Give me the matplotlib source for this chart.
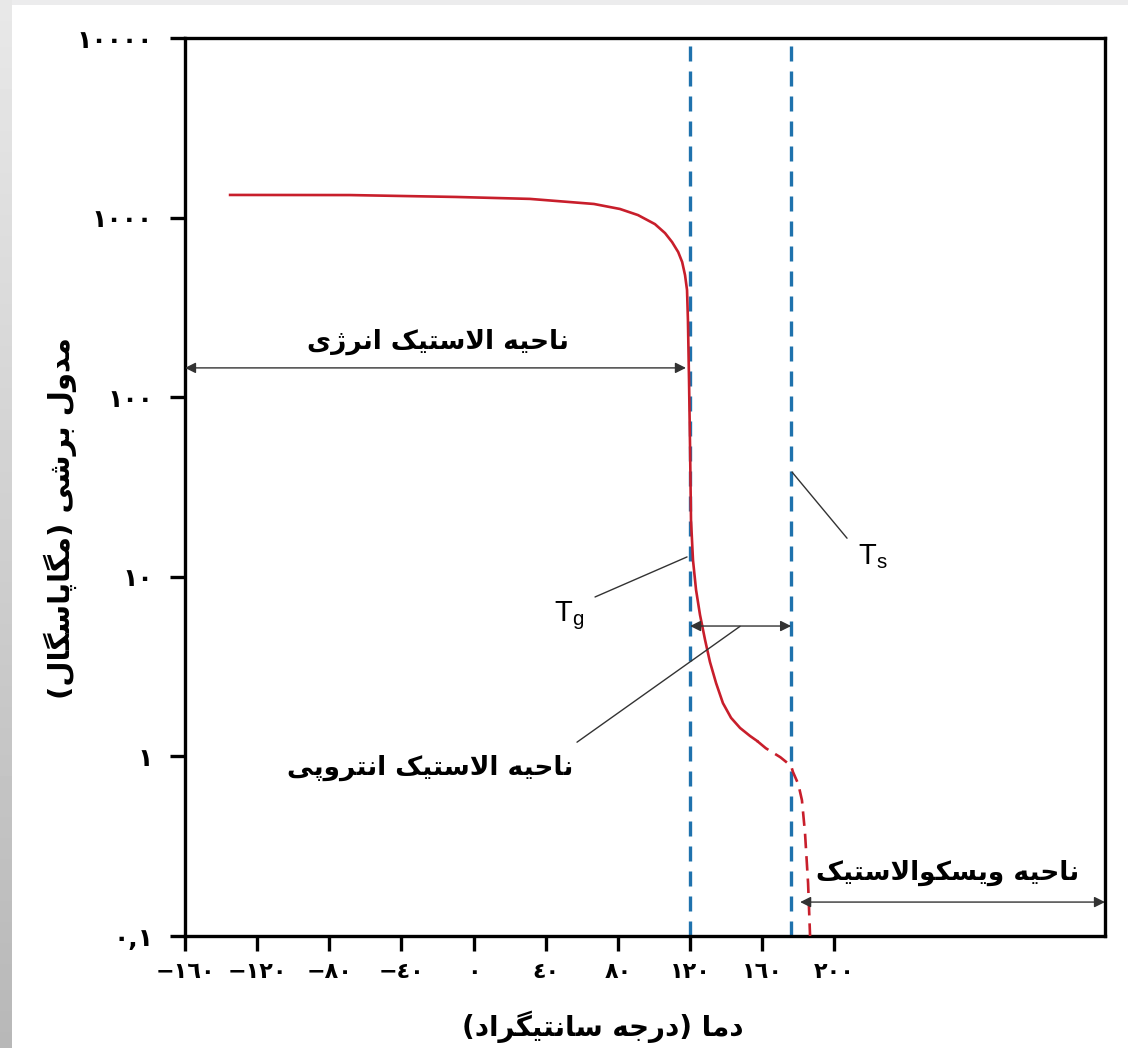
import matplotlib
matplotlib.use("Agg")
import matplotlib.pyplot as plt
import numpy as np

# داده‌ها: دما (درجه سانتیگراد) و مدول برشی (مگاپاسگال)
temp_solid = [-135, -68.5, -9.8, 31.2, 66.7, 81.1, 91.1, 100.5, 106.1, 110.0,
              113.4, 115.6, 117.2, 118.3, 118.8, 119.4, 120.0, 120.5, 121.6, 123.3,
              125.5, 128.3, 131.0, 134.4, 138.2, 142.7, 147.7, 153.2, 157.1]
mod_solid = [1337, 1335, 1303, 1271, 1191, 1117, 1033, 920, 820, 731,
             643, 566, 478, 395, 269, 125, 50.8, 20.7, 12.4, 8.45,
             6.13, 4.45, 3.36, 2.56, 1.98, 1.64, 1.44, 1.30, 1.22]
temp_dash = [157.1, 162, 170, 176, 177, 180, 182, 183.7, 185.4, 186.5]
mod_dash = [1.22, 1.11, 0.99, 0.885, 0.82, 0.70, 0.57, 0.375, 0.197, 0.1]

t_g = 120
t_s = 176

xticks = [-160, -120, -80, -40, 0, 40, 80, 120, 160, 200]
yticks = [0.1, 1, 10, 100, 1000, 10000]
ytick_labels = ["٠,١", "١", "١٠", "١٠٠", "١٠٠٠", "١٠٠٠٠"]

# شکل‌دهی حروف فارسی (matplotlib خودش حروف را به هم وصل نمی‌کند)
FORMS = {
    'ا': ('\ufe8d', '\ufe8e'), 'د': ('\ufea9', '\ufeaa'),
    'ر': ('\ufead', '\ufeae'), 'ز': ('\ufeaf', '\ufeb0'),
    'ژ': ('\ufb8a', '\ufb8b'), 'و': ('\ufeed', '\ufeee'),
    'ب': ('\ufe8f', '\ufe90', '\ufe91', '\ufe92'),
    'پ': ('\ufb56', '\ufb57', '\ufb58', '\ufb59'),
    'ت': ('\ufe95', '\ufe96', '\ufe97', '\ufe98'),
    'ج': ('\ufe9d', '\ufe9e', '\ufe9f', '\ufea0'),
    'ح': ('\ufea1', '\ufea2', '\ufea3', '\ufea4'),
    'س': ('\ufeb1', '\ufeb2', '\ufeb3', '\ufeb4'),
    'ش': ('\ufeb5', '\ufeb6', '\ufeb7', '\ufeb8'),
    'ل': ('\ufedd', '\ufede', '\ufedf', '\ufee0'),
    'م': ('\ufee1', '\ufee2', '\ufee3', '\ufee4'),
    'ن': ('\ufee5', '\ufee6', '\ufee7', '\ufee8'),
    'ه': ('\ufee9', '\ufeea', '\ufeeb', '\ufeec'),
    'ک': ('\ufb8e', '\ufb8f', '\ufb90', '\ufb91'),
    'گ': ('\ufb92', '\ufb93', '\ufb94', '\ufb95'),
    'ی': ('\ufbfc', '\ufbfd', '\ufbfe', '\ufbff'),
}


def fa(s):
    out = []
    i = 0
    while i < len(s):
        c = s[i]
        if c not in FORMS:
            out.append(c)
            i += 1
            continue
        prev = s[i - 1] if i > 0 else ''
        joins_prev = prev in FORMS and len(FORMS[prev]) == 4
        if c == 'ل' and i + 1 < len(s) and s[i + 1] == 'ا':
            out.append('\ufefc' if joins_prev else '\ufefb')
            i += 2
            continue
        nxt = s[i + 1] if i + 1 < len(s) else ''
        joins_next = len(FORMS[c]) == 4 and nxt in FORMS
        f = FORMS[c]
        if joins_prev and joins_next:
            out.append(f[3])
        elif joins_prev:
            out.append(f[1])
        elif joins_next:
            out.append(f[2])
        else:
            out.append(f[0])
        i += 1
    vis = ''.join(reversed(out))
    return vis.translate(str.maketrans('()', ')('))


def fa_num(v):
    s = str(abs(v)).translate(str.maketrans('0123456789', '٠١٢٣٤٥٦٧٨٩'))
    return ('−' + s) if v < 0 else s


plt.rcParams['font.family'] = ['DejaVu Sans']
plt.rcParams['mathtext.fontset'] = 'custom'
plt.rcParams['mathtext.rm'] = 'Liberation Sans'

fig = plt.figure(figsize=(11.28, 10.48), dpi=100)

# حاشیه خاکستری سمت چپ و بالا
strip = fig.add_axes([0, 0, 12 / 1128, 1])
strip.imshow(np.linspace(0.91, 0.72, 200).reshape(-1, 1), cmap='gray', vmin=0, vmax=1,
             aspect='auto', extent=[0, 1, 0, 1])
strip.axis('off')
top = fig.add_axes([12 / 1128, 1 - 5 / 1048, 1, 5 / 1048])
top.set_facecolor('#ececed')
top.set_xticks([]); top.set_yticks([])
for s in top.spines.values():
    s.set_visible(False)

ax = fig.add_axes([185 / 1128, 1 - 936 / 1048, 920 / 1128, 898 / 1048])
ax.set_yscale('log')
ax.set_xlim(-160, 350)
ax.set_ylim(0.1, 10000)

red = '#c81e2b'
blue = '#1f72ad'
ax.plot(temp_solid, mod_solid, color=red, lw=1.9, zorder=3, solid_joinstyle='round')
ax.plot(temp_dash, mod_dash, color=red, lw=1.9, linestyle=(0, (5.5, 3)), zorder=3)
for t in (t_g, t_s):
    ax.axvline(t, color=blue, lw=2.4, linestyle=(0, (4.5, 3)), zorder=2)

for s in ax.spines.values():
    s.set_linewidth(2.4)
ax.set_xticks(xticks)
ax.set_xticklabels([fa_num(v) for v in xticks])
ax.set_yticks(yticks)
ax.set_yticklabels(ytick_labels)
ax.minorticks_off()
ax.tick_params(axis='both', direction='out', length=11, width=2.4, labelsize=16, pad=8)
ax.tick_params(axis='y', pad=12, labelsize=18)
for lab in ax.get_xticklabels() + ax.get_yticklabels():
    lab.set_fontweight('bold')

arrow = dict(arrowstyle='<|-|>', color='#333333', lw=1.0, mutation_scale=16,
             shrinkA=0, shrinkB=0)
line = dict(arrowstyle='-', color='#333333', lw=1.0, shrinkA=0, shrinkB=0)

# ناحیه الاستیک انرژی
ax.annotate('', xy=(117.7, 145.6), xytext=(-160, 145.6), arrowprops=arrow)
ax.text(-20, 203, fa('ناحیه الاستیک انرژی'), ha='center', va='center',
        fontsize=19, fontweight='bold')

# ناحیه الاستیک انتروپی
ax.annotate('', xy=(t_s, 5.32), xytext=(t_g, 5.32), arrowprops=arrow)
ax.annotate('', xy=(147.7, 5.3), xytext=(57.3, 1.2), arrowprops=line)
ax.text(55, 0.862, fa('ناحیه الاستیک انتروپی'), ha='right', va='center',
        fontsize=19, fontweight='bold')

# ناحیه ویسکوالاستیک
ax.annotate('', xy=(350, 0.1545), xytext=(181, 0.1545), arrowprops=arrow)
ax.text(263, 0.224, fa('ناحیه ویسکوالاستیک'), ha='center', va='center',
        fontsize=19, fontweight='bold')

# Tg و Ts
ax.annotate('', xy=(118.3, 12.9), xytext=(67.3, 7.72), arrowprops=line)
ax.text(53, 6.1, r'$\mathrm{T_g}$', ha='center', va='center', fontsize=21)
ax.annotate('', xy=(176.5, 38.3), xytext=(207, 16.4), arrowprops=line)
ax.text(221, 12.9, r'$\mathrm{T_s}$', ha='center', va='center', fontsize=21)

fig.text(60 / 1128, 1 - 518 / 1048, fa('مدول برشی (مگاپاسگال)'), rotation=90,
         ha='center', va='center', fontsize=21, fontweight='bold')
fig.text(603 / 1128, 1 - 1027 / 1048, fa('دما (درجه سانتیگراد)'),
         ha='center', va='center', fontsize=20, fontweight='bold')

fig.savefig('out.png', dpi=100)
